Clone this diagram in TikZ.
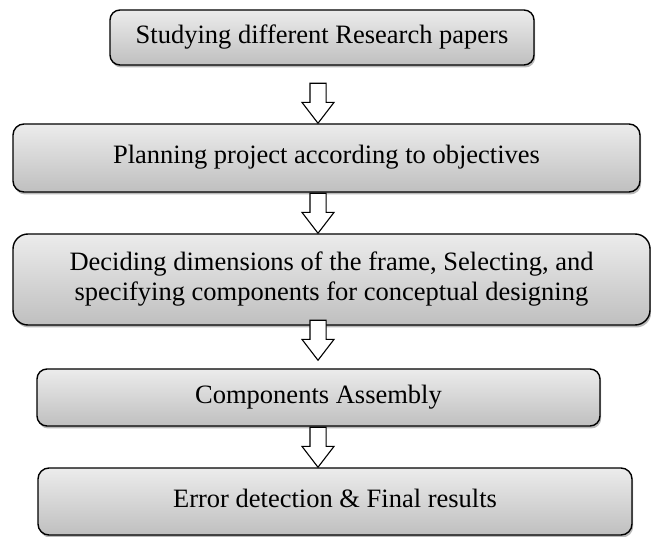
\documentclass[tikz,border=0pt]{standalone}
\usepackage{fontspec}
\setmainfont{Liberation Serif}
\usetikzlibrary{shapes.arrows, shadows, positioning}
\tikzset{
    stage/.style={rectangle, draw, line width=1.4pt, rounded corners=10pt, top color=gray!15, bottom color=gray!50, drop shadow={shadow xshift=1.2pt, shadow yshift=-2.5pt, fill=black!55}, align=center, inner sep=0pt, text height=18pt, text depth=6pt, font=\fontsize{26.5}{30}\selectfont},
    downarrow/.style={single arrow, draw, line width=1.1pt, fill=white, shape border rotate=270, minimum height=40pt, minimum width=31pt, inner sep=7.5pt, single arrow head extend=8pt, single arrow tip angle=75},
}
\begin{document}
\begin{tikzpicture}[x=1pt, y=1pt]
    \useasboundingbox (0,0) rectangle (651,536);

    % Stages
    \node[stage, minimum width=424pt, minimum height=55pt] (study) at (322,498.5) {Studying different Research papers};
    \node[stage, minimum width=627pt, minimum height=68pt, rounded corners=11pt] (plan) at (326.5,378) {Planning project according to objectives};
    \node[stage, minimum width=637pt, minimum height=91pt, rounded corners=15pt, text height=, text depth=] (design) at (331.5,256.5) {Deciding dimensions of the frame, Selecting, and\\specifying components for conceptual designing};
    \node[stage, minimum width=563pt, minimum height=57pt] (assembly) at (318.5,138.5) {Components Assembly};
    \node[stage, minimum width=594pt, minimum height=67pt, rounded corners=11pt] (results) at (335,34.5) {Error detection \& Final results};

    % Arrows
    \node[downarrow] (arrow1) at (318,438) {};
    \node[downarrow] (arrow2) at (318,328) {};
    \node[downarrow] (arrow3) at (318,201) {};
    \node[downarrow] (arrow4) at (318,94) {};
\end{tikzpicture}
\end{document}
